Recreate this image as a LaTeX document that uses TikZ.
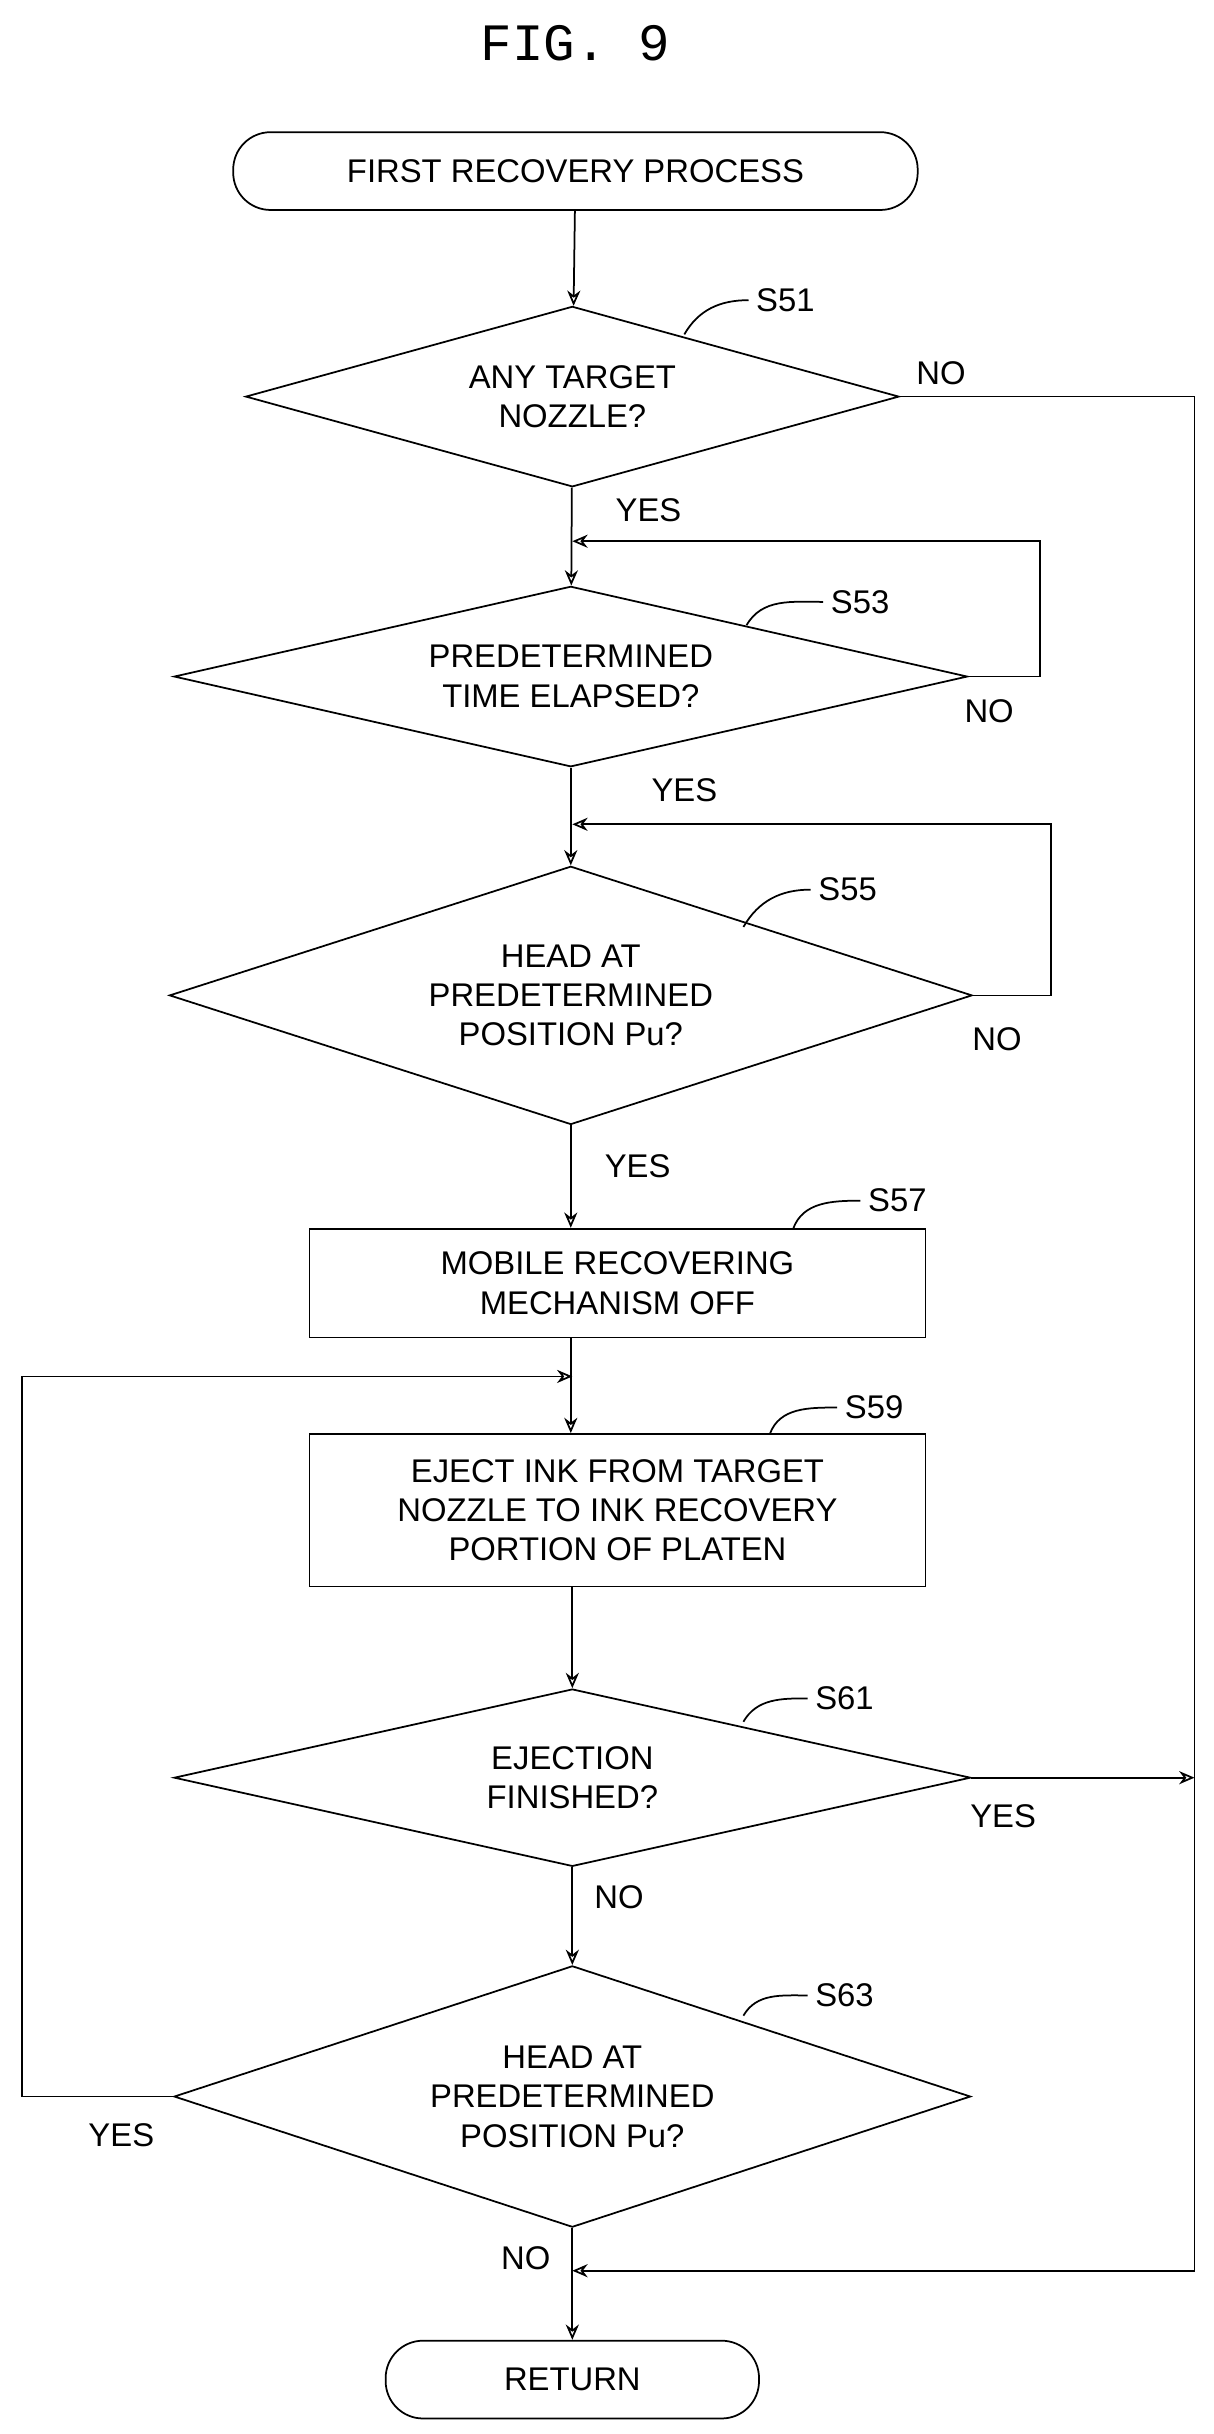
\documentclass[tikz,border=0pt]{standalone}
\usepackage{fontspec}
\setmainfont{Liberation Sans}
\setmonofont{Liberation Mono}
\usetikzlibrary{arrows.meta,shapes.geometric}
\tikzset{
  flow/.style={draw,line width=0.8pt,align=center,inner sep=0pt,font=\fontsize{15}{18}\selectfont},
  term/.style={flow,rounded corners=0.6cm},
  dec/.style={flow,diamond},
  txt/.style={align=center,font=\fontsize{15}{18}\selectfont},
  lbl/.style={font=\fontsize{15}{18}\selectfont},
  line/.style={line width=0.8pt,-{Stealth[open,length=7pt,width=6pt]}},
  tick/.style={line width=0.8pt}
}
\begin{document}
\begin{tikzpicture}[x=0.025cm,y=-0.025cm]
        \useasboundingbox (0,0) rectangle (780,1565);

        \node[font=\ttfamily\fontsize{24}{26}\selectfont] (title) at (370,28) {FIG.\ 9};

        \node[term,minimum width=11cm,minimum height=1.25cm]   (start) at (370,110)  {FIRST RECOVERY PROCESS};
        \node[dec,minimum width=10.5cm,minimum height=2.9cm,label={[txt]center:ANY TARGET\\NOZZLE?}]                   (S51) at (368,255)  {};
        \node[dec,minimum width=12.75cm,minimum height=2.9cm,label={[txt]center:PREDETERMINED\\TIME ELAPSED?}]         (S53) at (367,435)  {};
        \node[dec,minimum width=12.9cm,minimum height=4.15cm,label={[txt]center:HEAD AT\\PREDETERMINED\\POSITION Pu?}] (S55) at (367,640)  {};
        \node[flow,minimum width=9.9cm,minimum height=1.75cm]  (S57)   at (397,825)  {MOBILE RECOVERING\\MECHANISM OFF};
        \node[flow,minimum width=9.9cm,minimum height=2.45cm]  (S59)   at (397,971)  {EJECT INK FROM TARGET\\NOZZLE TO INK RECOVERY\\PORTION OF PLATEN};
        \node[dec,minimum width=12.8cm,minimum height=2.85cm,label={[txt]center:EJECTION\\FINISHED?}]                  (S61) at (368,1143) {};
        \node[dec,minimum width=12.8cm,minimum height=4.2cm,label={[txt]center:HEAD AT\\PREDETERMINED\\POSITION Pu?}]  (S63) at (368,1348) {};
        \node[term,minimum width=6cm,minimum height=1.25cm]    (ret)   at (368,1530) {RETURN};

        % junction points
        \coordinate (J53) at (368,348);
        \coordinate (J55) at (368,530);
        \coordinate (J59) at (368,885);
        \coordinate (J61) at (768,1143);
        \coordinate (Jend) at (368,1460);

        % step labels
        \node[lbl] (L51) at (505,193)  {S51};
        \node[lbl] (L53) at (553,387)  {S53};
        \node[lbl] (L55) at (545,572)  {S55};
        \node[lbl] (L57) at (577,772)  {S57};
        \node[lbl] (L59) at (562,905)  {S59};
        \node[lbl] (L61) at (543,1092) {S61};
        \node[lbl] (L63) at (543,1283) {S63};
        \draw[tick] (440,215) to[out=60,in=180] (L51.west);
        \draw[tick] (480,402) to[out=60,in=180] (L53.west);
        \draw[tick] (478,596) to[out=60,in=180] (L55.west);
        \draw[tick] (510,790) to[out=70,in=180] (L57.west);
        \draw[tick] (495,922) to[out=70,in=180] (L59.west);
        \draw[tick] (478,1107) to[out=60,in=180] (L61.west);
        \draw[tick] (478,1296) to[out=60,in=180] (L63.west);

        % yes / no labels
        \node[lbl] at (605,240)  {NO};
        \node[lbl] at (417,328)  {YES};
        \node[lbl] at (636,457)  {NO};
        \node[lbl] at (440,508)  {YES};
        \node[lbl] at (641,668)  {NO};
        \node[lbl] at (410,750)  {YES};
        \node[lbl] at (645,1168) {YES};
        \node[lbl] at (398,1220) {NO};
        \node[lbl] at (78,1373)  {YES};
        \node[lbl] at (338,1452) {NO};

        % connectors
        \draw[line] (start) -- (S51);
        \draw[line] (S51) -- (S53);
        \draw[line] (S53.east) -- ++(46,0) |- (J53);
        \draw[line] (S53) -- (S55);
        \draw[line] (S55.east) -- ++(50,0) |- (J55);
        \draw[line] (S55) -- (S55 |- S57.north);
        \draw[line] (S57.south -| S55) -- (S59.north -| S55);
        \draw[line] (S63.west) -- ++(-97,0) |- (J59);
        \draw[line] (S59.south -| S61) -- (S61);
        \draw[line] (S61.east) -- (J61);
        \draw[line] (S61) -- (S63);
        \draw[line] (S51.east) -| (768,1460) -- (Jend);
        \draw[line] (S63) -- (ret);
\end{tikzpicture}
\end{document}
